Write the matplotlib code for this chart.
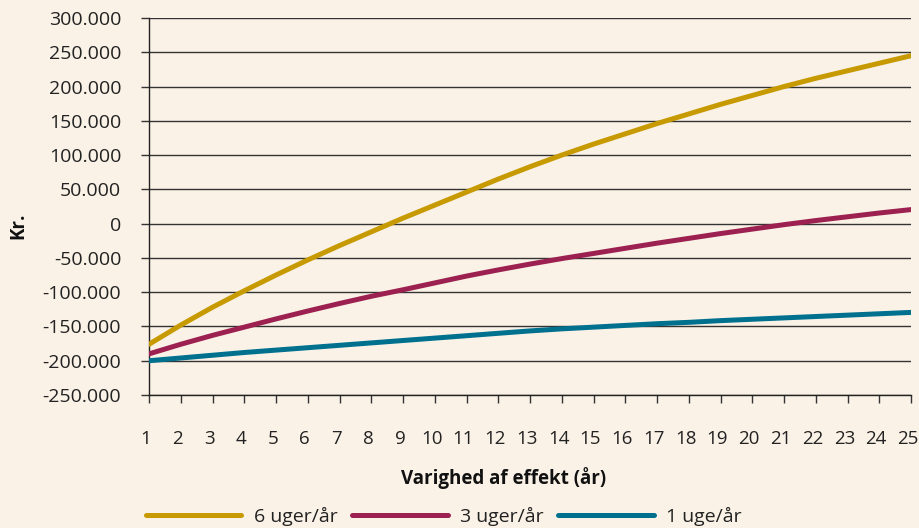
import matplotlib
matplotlib.use("Agg")
import matplotlib.pyplot as plt
import matplotlib.transforms as mtransforms
from matplotlib.ticker import FuncFormatter

years = list(range(1, 26))
series_names = ["6 uger/år", "3 uger/år", "1 uge/år"]
six_weeks = [-176000, -148000, -122000, -98000, -75000, -53000, -32000, -12000, 8000,
             27000, 46000, 65000, 83000, 100000, 116000, 131000, 146000, 160000, 174000,
             187000, 200000, 212000, 223000, 234000, 245000]
three_weeks = [-190000, -176000, -163000, -151000, -139000, -127500, -116500, -106000,
               -96500, -86500, -76500, -67500, -59000, -51000, -43500, -36000, -28500,
               -21500, -14500, -8000, -1500, 4500, 10000, 15500, 20500]
one_week = [-200000, -196000, -192000, -188000, -184500, -181000, -177500, -174000,
            -170500, -167000, -163500, -160000, -156500, -153500, -151000, -148500,
            -146000, -144000, -141500, -139500, -137500, -135500, -133500, -131500, -129500]
y_ticks = list(range(-250000, 300001, 50000))

colors = ["#C69A00", "#9C2150", "#00708F"]
bg = "#FAF2E7"

plt.rcParams['font.family'] = ['Open Sans', 'DejaVu Sans']

fig = plt.figure(figsize=(9.19, 5.28), dpi=100, facecolor=bg)
ax = fig.add_axes([149/919, 1-395/528, (911-149)/919, (395-18)/528])
ax.set_facecolor(bg)

for vals, name, c in zip([six_weeks, three_weeks, one_week], series_names, colors):
    ax.plot(years, vals, color=c, lw=3.6, solid_capstyle='round', label=name, zorder=3)

ax.set_xlim(1, 25)
ax.set_ylim(-250000, 300000)
ax.set_yticks(y_ticks)
ax.set_xticks(years)
ax.yaxis.set_major_formatter(FuncFormatter(lambda v, p: f"{int(v):,}".replace(",", ".")))
ax.grid(axis='y', color='#333333', lw=1.0, zorder=1)
for s in ['top', 'right']:
    ax.spines[s].set_visible(False)
for s in ['left', 'bottom']:
    ax.spines[s].set_color('#222222')
    ax.spines[s].set_linewidth(1.0)
ax.tick_params(axis='y', length=6, width=1, color='#333333', labelsize=14, pad=14, labelcolor='#222222')
ax.tick_params(axis='x', length=6, width=1, color='#333333', labelsize=13.5, pad=19, labelcolor='#222222')

shift = mtransforms.ScaledTranslation(-3/100, 0, fig.dpi_scale_trans)
for lbl in ax.get_xticklabels():
    lbl.set_transform(lbl.get_transform() + shift)

ax.set_xlabel("Varighed af effekt (år)", fontsize=13.5, fontweight='bold', color='#111111')
ax.xaxis.set_label_coords((504-149)/762, (395-478)/377)
ax.xaxis.label.set_va('center')
ax.set_ylabel("Kr.", fontsize=13.5, fontweight='bold', color='#111111')
ax.yaxis.set_label_coords((18-149)/762, (395-226)/377)
ax.yaxis.label.set_va('center')

leg = fig.legend(loc='center', bbox_to_anchor=(444/919, 1-516/528), ncol=3, frameon=False,
                 fontsize=14, handlelength=4.9, columnspacing=0.75, handletextpad=0.65,
                 borderpad=0, borderaxespad=0)
for t in leg.get_texts():
    t.set_color('#222222')

fig.savefig("out.png", dpi=100, facecolor=bg)
